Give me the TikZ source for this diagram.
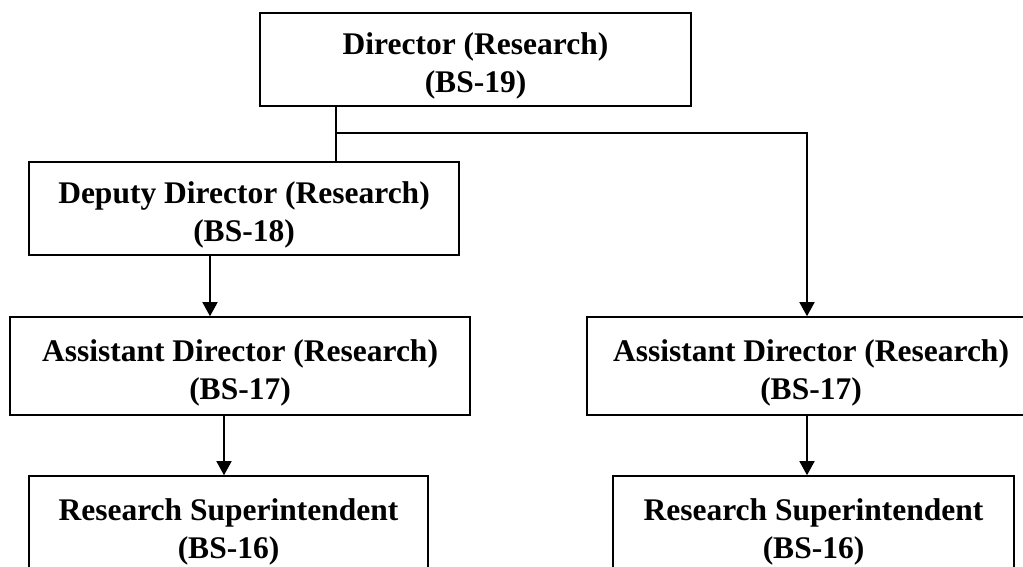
\documentclass[tikz,border=0pt]{standalone}
\usepackage{fontspec}
\setmainfont{Liberation Serif}
\usepackage{tikz}
\usetikzlibrary{arrows.meta, positioning}

% pushes the text of a post a little lower in its box
\newcommand{\lowergap}{\rule{0pt}{35pt}}

\begin{document}
\begin{tikzpicture}[x=1pt, y=-1pt,
    post/.style={rectangle, draw, line width=1.6pt, align=center, inner sep=0pt,
        font=\fontsize{31.5}{38}\selectfont\bfseries},
    link/.style={line width=1.6pt},
    arrow/.style={line width=1.6pt, -{Triangle[width=15pt, length=14pt]}}
]
\useasboundingbox (0,0) rectangle (1023,567);

% Posts
\node[post, minimum width=431pt, minimum height=93pt] (director) at (475.5, 59.5) {\lowergap Director (Research)\\(BS-19)};
\node[post, minimum width=430pt, minimum height=93pt] (deputy) at (244, 208.5) {\lowergap Deputy Director (Research)\\(BS-18)};
\node[post, minimum width=460pt, minimum height=98pt] (asstL) at (240, 366) {\lowergap Assistant Director (Research)\\(BS-17)};
\node[post, minimum width=448pt, minimum height=98pt] (asstR) at (811, 366) {\lowergap Assistant Director (Research)\\(BS-17)};
\node[post, minimum width=399pt, minimum height=98pt] (supL) at (228.5, 525) {\lowergap Research Superintendent\\(BS-16)};
\node[post, minimum width=401pt, minimum height=98pt] (supR) at (813.5, 525) {\lowergap Research Superintendent\\(BS-16)};

% Junctions
\coordinate (split) at (336, 133);
\coordinate (turn) at (807, 133);

% Connections
\draw[link] (split |- director.south) -- (split |- deputy.north);
\draw[arrow] (split) -- (turn) -- (turn |- asstR.north);
\draw[arrow] ([xshift=-34pt]deputy.south) -- ([xshift=-34pt]deputy.south |- asstL.north);
\draw[arrow] ([xshift=-16pt]asstL.south) -- ([xshift=-16pt]asstL.south |- supL.north);
\draw[arrow] ([xshift=-4pt]asstR.south) -- ([xshift=-4pt]asstR.south |- supR.north);

\end{tikzpicture}
\end{document}
